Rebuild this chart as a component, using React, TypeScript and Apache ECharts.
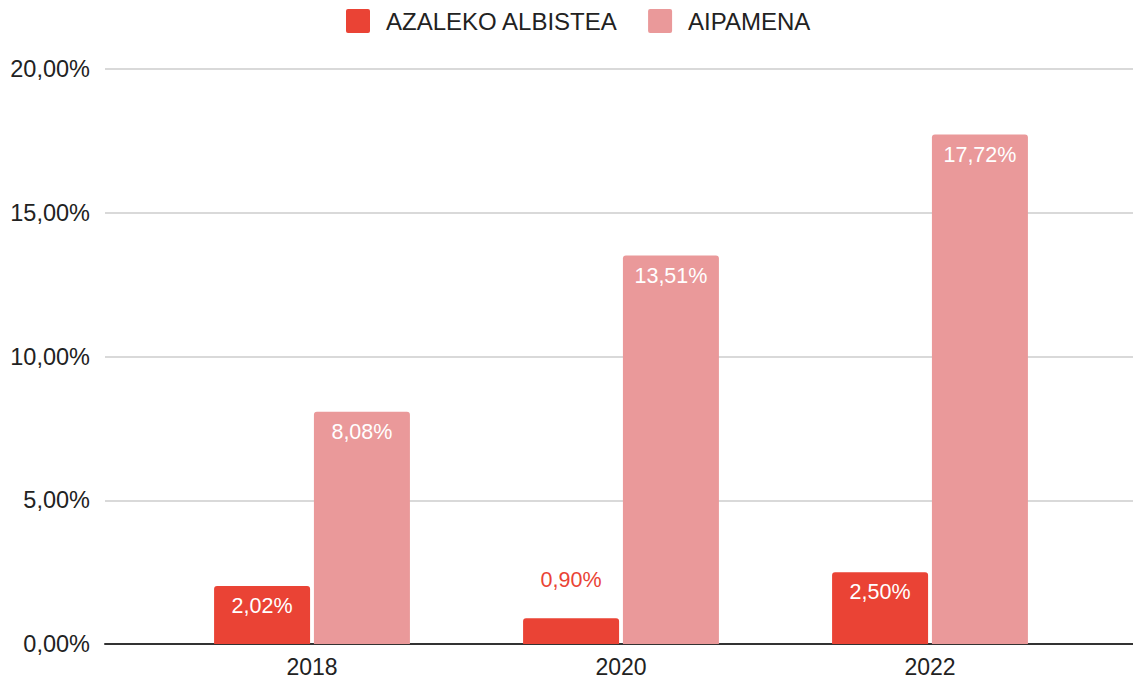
import React, { useEffect, useRef } from "react";
import * as echarts from "echarts";

const categories = ["2018", "2020", "2022"];
const azaleko = [2.02, 0.9, 2.5];
const aipamena = [8.08, 13.51, 17.72];
const seriesNames = ["AZALEKO ALBISTEA", "AIPAMENA"];

const RED = "#EA4335";
const PINK = "#EA999A";
const FONT = "Liberation Sans, Arial, Helvetica, sans-serif";

const fmt = (v: number) => v.toFixed(2).replace(".", ",") + "%";

export default function App() {
  const ref = useRef<HTMLDivElement>(null);
  useEffect(() => {
    if (!ref.current) return;
    const chart = echarts.init(ref.current, undefined, { renderer: "svg" });
    const insideLabel = {
      show: true,
      position: "insideTop",
      distance: 9,
      color: "#fff",
      fontSize: 21.5,
      fontFamily: FONT,
      formatter: (p: any) => fmt(p.value),
    };
    chart.setOption({
      animation: false,
      textStyle: { fontFamily: FONT },
      legend: {
        top: 4,
        left: 341,
        itemWidth: 24,
        itemHeight: 24,
        itemGap: 30,
        icon: "path://M2,0 H22 Q24,0 24,2 V22 Q24,24 22,24 H2 Q0,24 0,22 V2 Q0,0 2,0 Z",
        textStyle: { fontSize: 24, color: "#222", fontFamily: FONT, padding: [0, 0, 0, 11] },
        data: seriesNames,
      },
      grid: [
        { left: 105, right: 0, top: 69, bottom: 36, containLabel: false },
        { left: 157.5, right: 48.5, top: 69, bottom: 36, containLabel: false },
      ],
      xAxis: [
        {
          gridIndex: 0,
          type: "category",
          data: [""],
          axisLine: { show: true, lineStyle: { color: "#333", width: 2 } },
          axisTick: { show: false },
          axisLabel: { show: false },
        },
        {
          gridIndex: 1,
          type: "category",
          data: categories,
          axisLine: { show: false },
          axisTick: { show: false },
          axisLabel: { fontSize: 23, color: "#222", margin: 11, fontFamily: FONT },
        },
      ],
      yAxis: [
        {
          gridIndex: 0,
          type: "value",
          min: 0,
          max: 20,
          interval: 5,
          axisLine: { show: false },
          axisTick: { show: false },
          axisLabel: { fontSize: 23.5, color: "#222", margin: 15, fontFamily: FONT, formatter: (v: number) => fmt(v) },
          splitLine: { lineStyle: { color: "#cccccc", width: 1.5 } },
        },
        {
          gridIndex: 1,
          type: "value",
          min: 0,
          max: 20,
          interval: 5,
          show: false,
          splitLine: { show: false },
        },
      ],
      series: [
        {
          name: seriesNames[0],
          type: "bar",
          xAxisIndex: 1,
          yAxisIndex: 1,
          barWidth: 96,
          barGap: "4%",
          itemStyle: { color: RED, borderRadius: [3, 3, 0, 0] },
          label: insideLabel,
          data: azaleko.map((v) =>
            v < 1.5
              ? { value: v, label: { position: "top", distance: 27, color: RED } }
              : { value: v }
          ),
        },
        {
          name: seriesNames[1],
          type: "bar",
          xAxisIndex: 1,
          yAxisIndex: 1,
          barWidth: 96,
          barGap: "4%",
          itemStyle: { color: PINK, borderRadius: [3, 3, 0, 0] },
          label: insideLabel,
          data: aipamena,
        },
      ],
    });
    return () => chart.dispose();
  }, []);
  return (
    <div
      ref={ref}
      style={{ position: "fixed", top: 0, left: 0, width: 1133, height: 680, background: "#fff" }}
    />
  );
}
